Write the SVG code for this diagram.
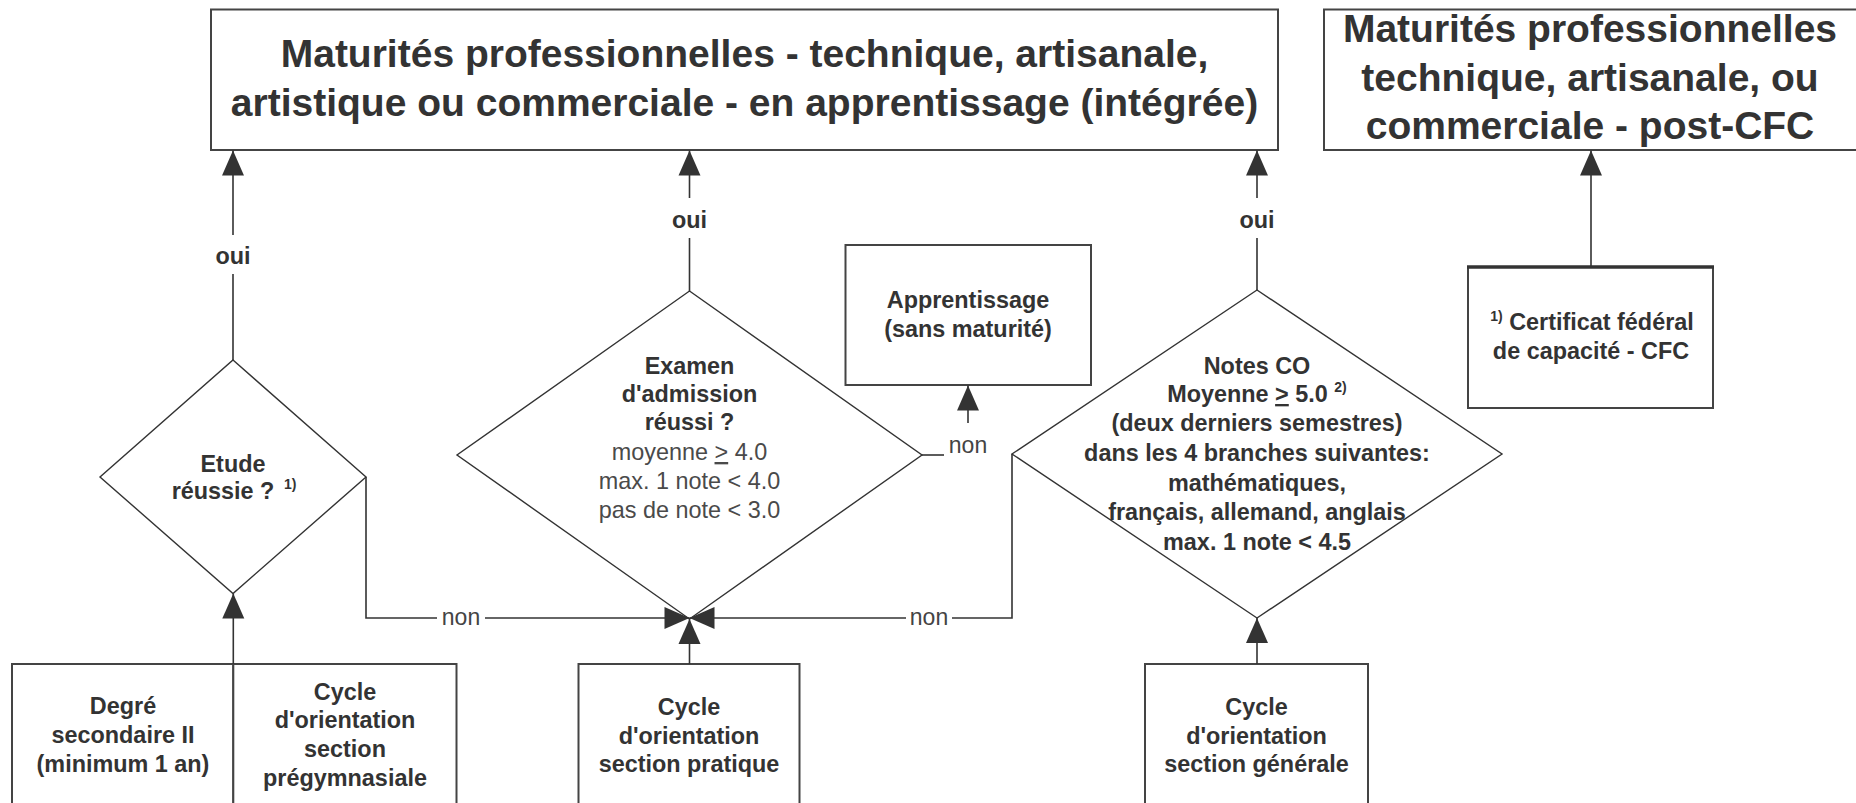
<svg xmlns="http://www.w3.org/2000/svg" width="1856" height="803" viewBox="0 0 1856 803">
<style>
.box{fill:#fff;stroke:#444;stroke-width:2}
.dia{fill:#fff;stroke:#333;stroke-width:1.4}
.t{font-family:"Liberation Sans",Arial,Helvetica,sans-serif;font-weight:bold;font-size:23.4px;fill:#333;text-anchor:middle}
.r{font-weight:normal;fill:#4a4a4a}
.h{font-size:39px}
.lbl{font-family:"Liberation Sans",Arial,Helvetica,sans-serif;font-size:23px;fill:#444;text-anchor:middle}
.lb{font-weight:bold;font-size:23.4px;fill:#333}
.sup{font-size:14px}
.c{fill:none;stroke:#333;stroke-width:1.6}
</style>
<defs>
<marker id="ah" markerUnits="userSpaceOnUse" markerWidth="26" markerHeight="23" refX="25" refY="11" orient="auto" overflow="visible">
<path d="M0,0 L25,11 L0,22 Z" fill="#333"/>
</marker>
</defs>
<rect width="1856" height="803" fill="#fff"/>

<g id="main-box">
<rect class="box" x="211" y="9.5" width="1067" height="140.5"/>
<text class="t h" x="744.5" y="67">Maturités professionnelles - technique, artisanale,</text>
<text class="t h" x="744.5" y="115.5">artistique ou commerciale - en apprentissage (intégrée)</text>
</g>

<g id="post-cfc-box">
<rect class="box" x="1324" y="9.5" width="540" height="140.5"/>
<text class="t h" x="1590" y="41.7">Maturités professionnelles</text>
<text class="t h" x="1590" y="90.7">technique, artisanale, ou</text>
<text class="t h" x="1590" y="139.3">commerciale - post-CFC</text>
</g>

<g id="etude-diamond">
<polygon class="dia" points="233,360 366,477 233,593.5 100,477"/>
<text class="t" x="233" y="472">Etude</text>
<text class="t" x="234" y="498.5">réussie ? <tspan class="sup" dx="3" dy="-10">1)</tspan></text>
</g>

<g id="examen-diamond">
<polygon class="dia" points="689.5,291 922,455 689.5,619 457,455"/>
<text class="t" x="689.5" y="374">Examen</text>
<text class="t" x="689.5" y="402">d'admission</text>
<text class="t" x="689.5" y="430">réussi ?</text>
<text class="t r" x="689.5" y="460">moyenne <tspan text-decoration="underline">&gt;</tspan> 4.0</text>
<text class="t r" x="689.5" y="489">max. 1 note &lt; 4.0</text>
<text class="t r" x="689.5" y="518">pas de note &lt; 3.0</text>
</g>

<g id="notes-diamond">
<polygon class="dia" points="1257,290 1502,454 1257,618 1012,454"/>
<text class="t" x="1257" y="374">Notes CO</text>
<text class="t" x="1257" y="402">Moyenne <tspan text-decoration="underline">&gt;</tspan> 5.0 <tspan class="sup" dy="-10">2)</tspan></text>
<text class="t" x="1257" y="431">(deux derniers semestres)</text>
<text class="t" x="1257" y="461">dans les 4 branches suivantes:</text>
<text class="t" x="1257" y="490.5">mathématiques,</text>
<text class="t" x="1257" y="520">français, allemand, anglais</text>
<text class="t" x="1257" y="549.5">max. 1 note &lt; 4.5</text>
</g>

<g id="apprentissage-box">
<rect class="box" x="845.5" y="245" width="245.5" height="140"/>
<text class="t" x="968" y="308">Apprentissage</text>
<text class="t" x="968" y="337">(sans maturité)</text>
</g>

<g id="cfc-box">
<rect class="box" x="1468" y="267" width="245" height="141"/>
<line x1="1467" y1="267" x2="1714" y2="267" stroke="#333" stroke-width="3.5"/>
<text class="t" x="1592" y="330"><tspan class="sup" dy="-9">1)</tspan><tspan dy="9"> Certificat fédéral</tspan></text>
<text class="t" x="1591" y="358.5">de capacité - CFC</text>
</g>

<g id="degre-box">
<rect class="box" x="12" y="664" width="221.3" height="200"/>
<text class="t" x="123" y="714">Degré</text>
<text class="t" x="123" y="743">secondaire II</text>
<text class="t" x="123" y="771.5">(minimum 1 an)</text>
</g>

<g id="co-pregymnasiale-box">
<rect class="box" x="233.3" y="664" width="223.2" height="200"/>
<text class="t" x="345" y="699.5">Cycle</text>
<text class="t" x="345" y="728">d'orientation</text>
<text class="t" x="345" y="757">section</text>
<text class="t" x="345" y="786">prégymnasiale</text>
</g>

<g id="co-pratique-box">
<rect class="box" x="578.5" y="664" width="221" height="200"/>
<text class="t" x="689" y="715">Cycle</text>
<text class="t" x="689" y="744">d'orientation</text>
<text class="t" x="689" y="772">section pratique</text>
</g>

<g id="co-generale-box">
<rect class="box" x="1145" y="664" width="223" height="200"/>
<text class="t" x="1256.5" y="715">Cycle</text>
<text class="t" x="1256.5" y="744">d'orientation</text>
<text class="t" x="1256.5" y="772">section générale</text>
</g>

<g id="connectors">
<!-- oui arrows to main box -->
<path class="c" d="M233,360 V274"/>
<path class="c" d="M233,235 V150.5" marker-end="url(#ah)"/>
<text class="lbl lb" x="233" y="263.5">oui</text>
<path class="c" d="M689.5,291 V238"/>
<path class="c" d="M689.5,198 V150.5" marker-end="url(#ah)"/>
<text class="lbl lb" x="689.5" y="228">oui</text>
<path class="c" d="M1257,290 V238"/>
<path class="c" d="M1257,198 V150.5" marker-end="url(#ah)"/>
<text class="lbl lb" x="1257" y="228">oui</text>
<!-- CFC to post-CFC -->
<path class="c" d="M1591,266 V150.5" marker-end="url(#ah)"/>
<!-- bottom boxes up -->
<path class="c" d="M233.3,664 V593.5" marker-end="url(#ah)"/>
<path class="c" d="M689.5,664 V619" marker-end="url(#ah)"/>
<path class="c" d="M1257,664 V618" marker-end="url(#ah)"/>
<!-- non from Etude -->
<path class="c" d="M366,477 V618 H437"/>
<text class="lbl" x="461" y="625">non</text>
<path class="c" d="M485,618 H689.5" marker-end="url(#ah)"/>
<!-- non from Notes CO -->
<path class="c" d="M1012,454 V618 H952"/>
<text class="lbl" x="929" y="625">non</text>
<path class="c" d="M906,618 H689.5" marker-end="url(#ah)"/>
<!-- non from Examen to Apprentissage -->
<path class="c" d="M922,455 H944"/>
<text class="lbl" x="968" y="453">non</text>
<path class="c" d="M968,423 V385.5" marker-end="url(#ah)"/>
</g>
</svg>
